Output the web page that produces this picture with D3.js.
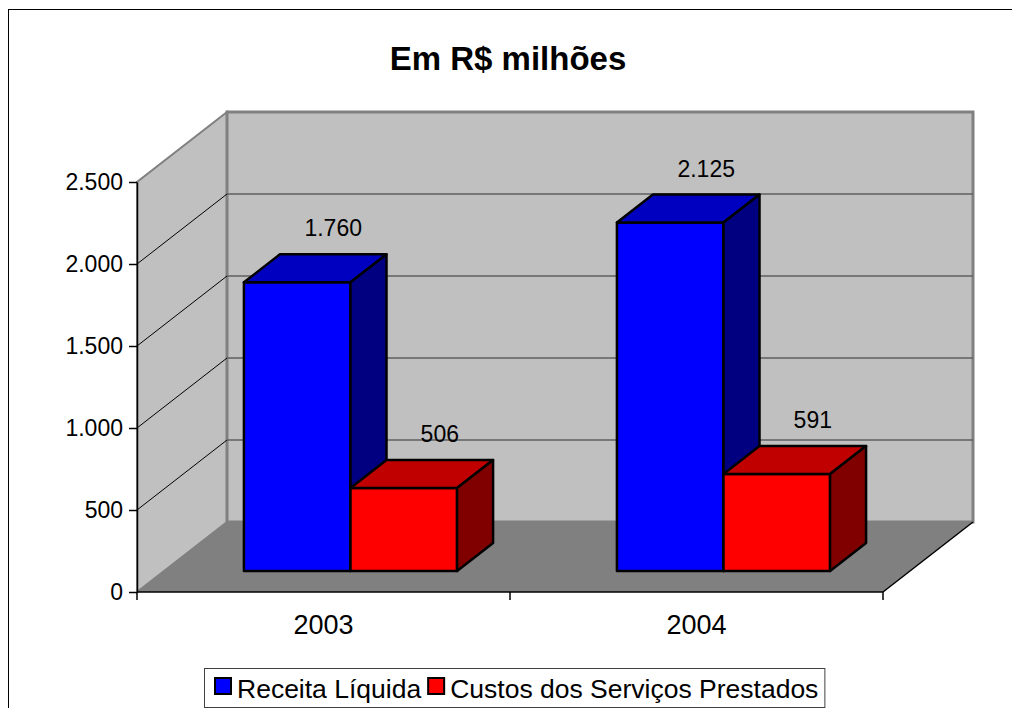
<!DOCTYPE html>
<html>
<head>
<meta charset="utf-8">
<script src="https://cdn.jsdelivr.net/npm/d3@7"></script>
<style>
  body { margin: 0; background: #fff; }
  svg { display: block; font-family: Arial, "Liberation Sans", sans-serif; }
</style>
</head>
<body>
<div id="chart"></div>
<script>
// chart data
const years = ["2003", "2004"];
const seriesNames = ["Receita Líquida", "Custos dos Serviços Prestados"];
const receita = [1760, 2125];
const custos = [506, 591];
const yTicks = [0, 500, 1000, 1500, 2000, 2500];

const faceColors = {
    "Receita Líquida": { front: "#0000FF", top: "#0000C0", side: "#000080" },
    "Custos dos Serviços Prestados": { front: "#FF0000", top: "#C00000", side: "#800000" }
};

const width = 1012;
const height = 708;

// 3d box of the plot: front-left corner of the floor, floor width, depth vector, wall height
const ox = 137, oy = 592;
const floorW = 746;
const depthX = 90, depthY = 70;
const wallH = 410;
const barFront = 0.3, barBack = 0.7;

const ptBR = d3.formatLocale({ decimal: ",", thousands: ".", grouping: [3], currency: ["R$", ""] });
const fmt = ptBR.format(",d");

const x0 = d3.scaleBand().domain(years).range([0, floorW]);
const x1 = d3.scaleBand().domain(seriesNames).range([0, x0.bandwidth()]).paddingOuter(0.75);
const y = d3.scaleLinear().domain([0, 2500]).range([0, wallH]);
const yScreen = d3.scaleLinear().domain([0, 2500]).range([oy, oy - wallH]);

function pt(x, h, z) {
    return [ox + x + z * depthX, oy - h - z * depthY];
}
function poly(points) {
    return points.map(p => p.join(",")).join(" ");
}

const svg = d3.select("#chart")
    .append("svg")
    .attr("width", width)
    .attr("height", height);

// outer frame
svg.append("rect")
    .attr("x", 8.5).attr("y", 9.5)
    .attr("width", 1010).attr("height", 710)
    .attr("fill", "#fff")
    .attr("stroke", "#000")
    .attr("stroke-width", 1);

svg.append("text")
    .attr("x", 508)
    .attr("y", 70)
    .attr("text-anchor", "middle")
    .style("font-size", "33px")
    .style("font-weight", "bold")
    .text("Em R$ milhões");

// walls and floor
svg.append("polygon")
    .attr("points", poly([pt(0, 0, 0), pt(0, 0, 1), pt(0, wallH, 1), pt(0, wallH, 0)]))
    .attr("fill", "#C0C0C0")
    .attr("stroke", "#808080")
    .attr("stroke-width", 2);

svg.append("polygon")
    .attr("points", poly([pt(0, 0, 1), pt(floorW, 0, 1), pt(floorW, wallH, 1), pt(0, wallH, 1)]))
    .attr("fill", "#C0C0C0")
    .attr("stroke", "#808080")
    .attr("stroke-width", 3);

svg.append("polygon")
    .attr("points", poly([pt(0, 0, 0), pt(floorW, 0, 0), pt(floorW, 0, 1), pt(0, 0, 1)]))
    .attr("fill", "#808080");

// gridlines
const gridTicks = yTicks.filter(t => t > 0 && t < 2500);
svg.selectAll(".grid-back")
    .data(gridTicks)
    .enter()
    .append("line")
    .attr("x1", d => pt(0, y(d), 1)[0])
    .attr("y1", d => pt(0, y(d), 1)[1])
    .attr("x2", d => pt(floorW, y(d), 1)[0])
    .attr("y2", d => pt(floorW, y(d), 1)[1])
    .attr("stroke", "#5f5f5f")
    .attr("stroke-width", 1.5);

svg.selectAll(".grid-side")
    .data(gridTicks)
    .enter()
    .append("line")
    .attr("x1", d => pt(0, y(d), 0)[0])
    .attr("y1", d => pt(0, y(d), 0)[1])
    .attr("x2", d => pt(0, y(d), 1)[0])
    .attr("y2", d => pt(0, y(d), 1)[1])
    .attr("stroke", "#000")
    .attr("stroke-width", 1);

// floor right edge
svg.append("line")
    .attr("x1", pt(floorW, 0, 0)[0]).attr("y1", pt(floorW, 0, 0)[1])
    .attr("x2", pt(floorW, 0, 1)[0]).attr("y2", pt(floorW, 0, 1)[1])
    .attr("stroke", "#000")
    .attr("stroke-width", 1.5);

// bars
const barData = [];
years.forEach((yr, i) => {
    barData.push({ year: yr, series: seriesNames[0], value: receita[i] });
    barData.push({ year: yr, series: seriesNames[1], value: custos[i] });
});

const bars = svg.selectAll(".bar")
    .data(barData)
    .enter()
    .append("g")
    .attr("class", "bar");

bars.each(function(d) {
    const g = d3.select(this);
    const xa = x0(d.year) + x1(d.series);
    const xb = xa + x1.bandwidth();
    const h = y(d.value);
    const c = faceColors[d.series];

    g.append("polygon")
        .attr("points", poly([pt(xa, 0, barFront), pt(xb, 0, barFront), pt(xb, h, barFront), pt(xa, h, barFront)]))
        .attr("fill", c.front);
    g.append("polygon")
        .attr("points", poly([pt(xa, h, barFront), pt(xb, h, barFront), pt(xb, h, barBack), pt(xa, h, barBack)]))
        .attr("fill", c.top);
    g.append("polygon")
        .attr("points", poly([pt(xb, 0, barFront), pt(xb, 0, barBack), pt(xb, h, barBack), pt(xb, h, barFront)]))
        .attr("fill", c.side);
    g.selectAll("polygon")
        .attr("stroke", "#000")
        .attr("stroke-width", 2.5)
        .attr("stroke-linejoin", "round");

    const lp = pt((xa + xb) / 2, h, barBack);
    g.append("text")
        .attr("x", lp[0])
        .attr("y", lp[1] - 18)
        .attr("text-anchor", "middle")
        .style("font-size", "23px")
        .text(fmt(d.value));
});

// y axis
const yAxis = d3.axisLeft(yScreen)
    .tickValues(yTicks)
    .tickFormat(fmt)
    .tickSize(8)
    .tickSizeOuter(0)
    .tickPadding(6);

const yg = svg.append("g")
    .attr("transform", `translate(${ox},0)`)
    .call(yAxis);
yg.select(".domain").attr("stroke-width", 1.5);
yg.selectAll(".tick line").attr("stroke-width", 1.5);
yg.selectAll(".tick text")
    .style("font-size", "23px")
    .style("font-family", "Arial, 'Liberation Sans', sans-serif")
    .attr("fill", "#000");

// category axis
svg.append("line")
    .attr("x1", ox).attr("y1", oy)
    .attr("x2", ox + floorW).attr("y2", oy)
    .attr("stroke", "#000")
    .attr("stroke-width", 1.5);

const boundaries = years.map(yr => x0(yr)).concat([x0(years[years.length - 1]) + x0.bandwidth()]);
svg.selectAll(".xtick")
    .data(boundaries)
    .enter()
    .append("line")
    .attr("x1", d => ox + d).attr("x2", d => ox + d)
    .attr("y1", oy).attr("y2", oy + 8)
    .attr("stroke", "#000")
    .attr("stroke-width", 1.5);

svg.selectAll(".xlabel")
    .data(years)
    .enter()
    .append("text")
    .attr("x", d => ox + x0(d) + x0.bandwidth() / 2)
    .attr("y", oy + 42)
    .attr("text-anchor", "middle")
    .style("font-size", "27px")
    .text(d => d);

// legend
const legend = svg.append("g").attr("transform", "translate(204,668)");
const legendBox = legend.append("rect")
    .attr("x", 0.5).attr("y", 0.5)
    .attr("height", 39)
    .attr("fill", "#fff")
    .attr("stroke", "#404040")
    .attr("stroke-width", 1);

let lx = 11;
seriesNames.forEach(name => {
    legend.append("rect")
        .attr("x", lx).attr("y", 10)
        .attr("width", 16).attr("height", 16)
        .attr("fill", faceColors[name].front)
        .attr("stroke", "#000")
        .attr("stroke-width", 2);
    const t = legend.append("text")
        .attr("x", lx + 22)
        .attr("y", 30)
        .style("font-size", "26.5px")
        .text(name);
    lx += 22 + t.node().getComputedTextLength() + 7;
});
legendBox.attr("width", lx - 1);
</script>
</body>
</html>
